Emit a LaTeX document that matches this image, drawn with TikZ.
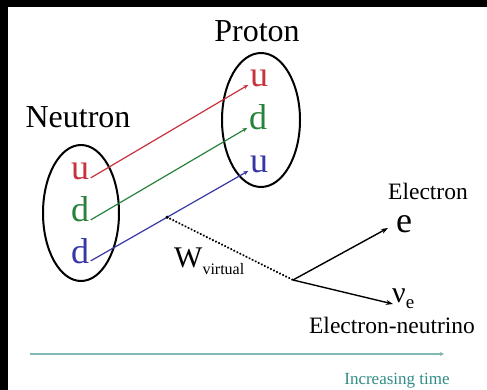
\documentclass[tikz,border=0pt]{standalone}
\usepackage{fontspec}
\setmainfont{Liberation Serif}
\usetikzlibrary{arrows.meta,calc}
\definecolor{qred}{RGB}{200,50,60}
\definecolor{qgreen}{RGB}{40,130,60}
\definecolor{qblue}{RGB}{55,55,165}
\definecolor{tline}{RGB}{130,185,180}
\definecolor{ttext}{RGB}{50,140,135}
\begin{document}
\begin{tikzpicture}[x=1pt,y=-1pt,
  lbl/.style={anchor=base,inner sep=0pt,font=\fontsize{32}{36}\selectfont},
  small/.style={anchor=base,inner sep=0pt,font=\fontsize{23.5}{26}\selectfont},
  quark/.style={anchor=base,inner sep=1.5pt,text height=0.42em,text depth=0pt,font=\fontsize{36}{40}\selectfont},
  qarrow/.style={line width=1.2pt,-{Stealth[length=5pt,width=4pt]}},
  karrow/.style={line width=1.4pt,-{Stealth[length=7pt,width=5pt]}},
  bag/.style={line width=2pt}]
\useasboundingbox (0,0) rectangle (487,390);
\fill[white] (0,0) rectangle (487,390);
\fill[black] (0,0) rectangle (8,390);
\fill[black] (0,0) rectangle (487,7);
% labels
\node[lbl] (neutron) at (78,128) {Neutron};
\node[lbl] (proton) at (257,42) {Proton};
% bags
\draw[bag] (81,213) ellipse [x radius=38, y radius=68];
\draw[bag] (261,120) ellipse [x radius=39, y radius=67];
% neutron quarks
\node[quark,text=qred] (nu) at (80,180) {u};
\node[quark,text=qgreen] (nd1) at (80,222) {d};
\node[quark,text=qblue] (nd2) at (80,263) {d};
% proton quarks
\node[quark,text=qred] (pu1) at (259,87) {u};
\node[quark,text=qgreen] (pd) at (258,130) {d};
\node[quark,text=qblue] (pu2) at (259,173) {u};
% quark lines
\draw[qarrow,qred] (nu.east) -- (pu1.west);
\draw[qarrow,qgreen] (nd1.east) -- (pd.west);
\draw[qarrow,qblue] (nd2.east) -- (pu2.west);
% W boson
\coordinate (wd) at ($(nd2.east)!0.485!(pu2.west)$);
\coordinate (v) at (293,280);
\fill (wd) circle (1.8pt);
\draw[line width=2.4pt,line cap=round,dash pattern=on 0.01pt off 3.4pt] (wd) -- (v);
\node[anchor=base west,inner sep=0pt] (w) at (174,267)
  {\fontsize{30}{30}\selectfont W\raisebox{-7pt}{\fontsize{16}{16}\selectfont virtual}};
% leptons
\node[anchor=base,inner sep=0pt,font=\fontsize{36}{40}\selectfont] (e) at (404,232) {e};
\node[small] (elabel) at (428,200) {Electron};
\node[anchor=base west,inner sep=0pt] (nu_e) at (392,302)
  {\fontsize{30}{30}\selectfont ν\raisebox{-6pt}{\fontsize{19}{19}\selectfont e}};
\node[small] (nlabel) at (392,333) {Electron-neutrino};
\coordinate (etip) at (388,228);
\coordinate (ntip) at (393,304);
\draw[karrow] (v) -- (etip);
\draw[karrow] (v) -- (ntip);
% time axis
\coordinate (t0) at (30,354);
\coordinate (t1) at (444,354);
\draw[tline,line width=1.4pt,-{Stealth[length=4pt,width=4pt]}] (t0) -- (t1);
\node[anchor=base,inner sep=0pt,text=ttext,font=\fontsize{17}{20}\selectfont] (time) at (397,384) {Increasing time};
\end{tikzpicture}
\end{document}
